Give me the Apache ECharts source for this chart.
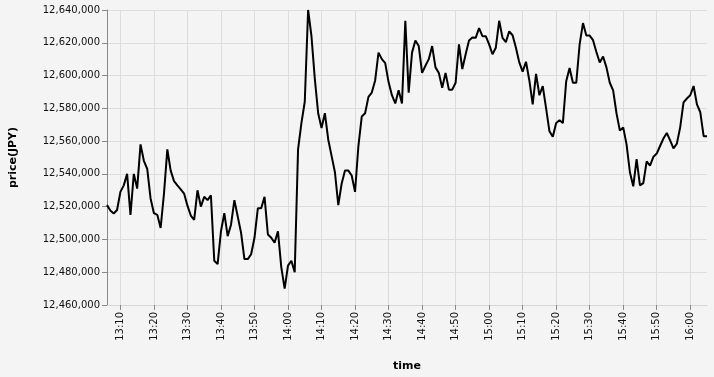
<!DOCTYPE html>
<html>
<head>
<meta charset="utf-8">
<script src="https://cdn.jsdelivr.net/npm/echarts@6/dist/echarts.min.js"></script>
<style>
  html, body { margin: 0; padding: 0; background: #f4f4f4; }
  #chart { width: 714px; height: 377px; }
</style>
</head>
<body>
<div id="chart"></div>
<script>
// minute bars
var times = [
  '13:06', '13:07', '13:08', '13:09', '13:10', '13:11', '13:12', '13:13', '13:14', '13:15',
  '13:16', '13:17', '13:18', '13:19', '13:20', '13:21', '13:22', '13:23', '13:24', '13:25',
  '13:26', '13:27', '13:28', '13:29', '13:30', '13:31', '13:32', '13:33', '13:34', '13:35',
  '13:36', '13:37', '13:38', '13:39', '13:40', '13:41', '13:42', '13:43', '13:44', '13:45',
  '13:46', '13:47', '13:48', '13:49', '13:50', '13:51', '13:52', '13:53', '13:54', '13:55',
  '13:56', '13:57', '13:58', '13:59', '14:00', '14:01', '14:02', '14:03', '14:04', '14:05',
  '14:06', '14:07', '14:08', '14:09', '14:10', '14:11', '14:12', '14:13', '14:14', '14:15',
  '14:16', '14:17', '14:18', '14:19', '14:20', '14:21', '14:22', '14:23', '14:24', '14:25',
  '14:26', '14:27', '14:28', '14:29', '14:30', '14:31', '14:32', '14:33', '14:34', '14:35',
  '14:36', '14:37', '14:38', '14:39', '14:40', '14:41', '14:42', '14:43', '14:44', '14:45',
  '14:46', '14:47', '14:48', '14:49', '14:50', '14:51', '14:52', '14:53', '14:54', '14:55',
  '14:56', '14:57', '14:58', '14:59', '15:00', '15:01', '15:02', '15:03', '15:04', '15:05',
  '15:06', '15:07', '15:08', '15:09', '15:10', '15:11', '15:12', '15:13', '15:14', '15:15',
  '15:16', '15:17', '15:18', '15:19', '15:20', '15:21', '15:22', '15:23', '15:24', '15:25',
  '15:26', '15:27', '15:28', '15:29', '15:30', '15:31', '15:32', '15:33', '15:34', '15:35',
  '15:36', '15:37', '15:38', '15:39', '15:40', '15:41', '15:42', '15:43', '15:44', '15:45',
  '15:46', '15:47', '15:48', '15:49', '15:50', '15:51', '15:52', '15:53', '15:54', '15:55',
  '15:56', '15:57', '15:58', '15:59', '16:00', '16:01', '16:02', '16:03', '16:04', '16:05'
];

var prices = [
  12521000, 12517600, 12515800, 12518000, 12529000, 12533000, 12540000, 12515000, 12540000, 12531000,
  12558000, 12548000, 12543000, 12525000, 12516000, 12515000, 12507000, 12528000, 12555000, 12542000,
  12535600, 12533000, 12530600, 12528000, 12520600, 12514600, 12512000, 12530000, 12520000, 12526000,
  12524000, 12527000, 12487000, 12485000, 12505000, 12516000, 12502000, 12509000, 12524000, 12514000,
  12504000, 12488000, 12488000, 12491000, 12501000, 12519000, 12519000, 12526000, 12503000, 12501000,
  12498000, 12505000, 12483000, 12470000, 12484000, 12487000, 12480000, 12555000, 12571000, 12584000,
  12640000, 12624000, 12598000, 12577000, 12568000, 12577000, 12561000, 12551000, 12541000, 12521000,
  12534000, 12542000, 12542000, 12539000, 12529000, 12557000, 12575000, 12577000, 12587000, 12589600,
  12597000, 12614000, 12610000, 12607600, 12596000, 12588000, 12583000, 12591000, 12583000, 12633400,
  12589600, 12614000, 12621400, 12618000, 12601600, 12606000, 12610000, 12618000, 12605000, 12601600,
  12592600, 12601600, 12591400, 12591400, 12595600, 12619000, 12604000, 12613000, 12621400, 12623200,
  12623000, 12629000, 12624000, 12624000, 12619000, 12613000, 12617000, 12633400, 12623000, 12620400,
  12627000, 12624600, 12617000, 12608000, 12602400, 12608400, 12597000, 12582400, 12601000, 12588000,
  12593600, 12580000, 12566000, 12562600, 12571000, 12572800, 12571000, 12596600, 12604600, 12595600,
  12595600, 12619000, 12632000, 12624400, 12624400, 12621600, 12614400, 12608000, 12611600, 12605000,
  12595600, 12591000, 12577000, 12566400, 12568400, 12558000, 12541000, 12532400, 12549000, 12533000,
  12534400, 12547600, 12545000, 12550400, 12552400, 12557000, 12561600, 12565000, 12560400, 12555600,
  12558400, 12568400, 12583600, 12586000, 12588000, 12593600, 12582400, 12577600, 12563000, 12563000
];

var timeTicks = [
  '13:10', '13:20', '13:30', '13:40', '13:50', '14:00', '14:10', '14:20', '14:30',
  '14:40', '14:50', '15:00', '15:10', '15:20', '15:30', '15:40', '15:50', '16:00'
];

var priceMin = 12460000;
var priceMax = 12640000;
var priceStep = 20000;

// minutes since midnight
function toMin (hhmm) {
  var p = hhmm.split(':');
  return (+p[0]) * 60 + (+p[1]);
}
function pad (n) {
  return (n < 10 ? '0' : '') + n;
}

var seriesData = times.map(function (t, i) {
  return [toMin(t), prices[i]];
});
var tickValues = timeTicks.map(toMin);

var chart = echarts.init(document.getElementById('chart'));
chart.setOption({
  backgroundColor: '#f4f4f4',
  animation: false,
  grid: {
    left: 107,
    right: 7,
    top: 10,
    bottom: 67,
    containLabel: false
  },
  xAxis: {
    type: 'value',
    min: toMin(times[0]),
    max: toMin(times[times.length - 1]),
    name: 'time',
    nameLocation: 'middle',
    nameGap: 56,
    nameTextStyle: {
      fontFamily: 'DejaVu Sans',
      fontSize: 11,
      fontWeight: 'bold',
      color: '#000'
    },
    axisLine: { show: true, lineStyle: { color: '#d4d4d4', width: 1 } },
    axisTick: { show: true, length: 5, lineStyle: { color: '#888' }, customValues: tickValues },
    splitLine: { show: true, lineStyle: { color: '#ddd', width: 1 } },
    axisLabel: {
      rotate: 90,
      margin: 7,
      fontFamily: 'DejaVu Sans',
      fontSize: 10,
      color: '#111',
      customValues: tickValues,
      formatter: function (v) {
        return pad(Math.floor(v / 60)) + ':' + pad(v % 60);
      }
    }
  },
  yAxis: {
    type: 'value',
    min: priceMin,
    max: priceMax,
    interval: priceStep,
    name: 'price(JPY)',
    nameLocation: 'middle',
    nameGap: 88,
    nameTextStyle: {
      fontFamily: 'DejaVu Sans',
      fontSize: 11,
      fontWeight: 'bold',
      color: '#000'
    },
    axisLine: { show: true, lineStyle: { color: '#888', width: 1 } },
    axisTick: { show: true, length: 5, lineStyle: { color: '#888' } },
    splitLine: { show: true, lineStyle: { color: '#ddd', width: 1 } },
    axisLabel: {
      margin: 7,
      fontFamily: 'DejaVu Sans',
      fontSize: 10,
      color: '#111',
      formatter: function (v) { return v.toLocaleString('en-US'); }
    }
  },
  series: [
    {
      name: 'price',
      type: 'line',
      data: seriesData,
      showSymbol: false,
      symbol: 'none',
      lineStyle: { color: '#000', width: 2 },
      clip: false
    }
  ]
});
</script>
</body>
</html>
